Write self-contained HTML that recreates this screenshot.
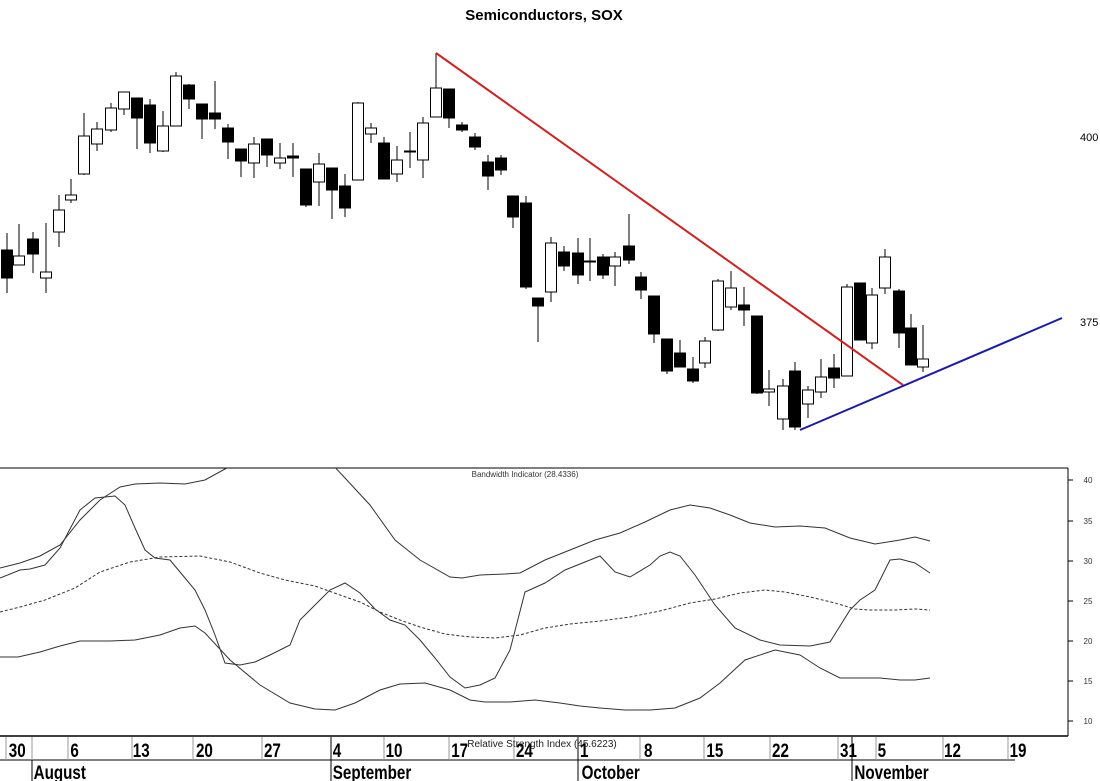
<!DOCTYPE html>
<html><head><meta charset="utf-8"><style>
html,body{margin:0;padding:0;background:#fff}
svg{display:block}
text{font-family:"Liberation Sans",sans-serif}
</style></head><body>
<svg width="1100" height="781" viewBox="0 0 1100 781" xmlns="http://www.w3.org/2000/svg">
<rect width="1100" height="781" fill="#fff"/>
<text x="544" y="20" font-size="15" font-weight="bold" text-anchor="middle">Semiconductors, SOX</text>
<text x="1080" y="141" font-size="11">400</text>
<text x="1080" y="326" font-size="11">375</text>
<g stroke="#000" stroke-width="1" shape-rendering="crispEdges">
<line x1="7" y1="233" x2="7" y2="293"/><rect x="1.5" y="250" width="11" height="28" fill="#000"/>
<line x1="19" y1="224" x2="19" y2="265"/><rect x="13.5" y="256" width="11" height="9" fill="#fff"/>
<line x1="33" y1="232" x2="33" y2="273"/><rect x="27.5" y="239" width="11" height="15" fill="#000"/>
<line x1="46" y1="223" x2="46" y2="293"/><rect x="40.5" y="272" width="11" height="6" fill="#fff"/>
<line x1="59" y1="195" x2="59" y2="247"/><rect x="53.5" y="210" width="11" height="22" fill="#fff"/>
<line x1="71" y1="179" x2="71" y2="203"/><rect x="65.5" y="195" width="11" height="5" fill="#fff"/>
<line x1="84" y1="113" x2="84" y2="175"/><rect x="78.5" y="136" width="11" height="38" fill="#fff"/>
<line x1="97" y1="122" x2="97" y2="151"/><rect x="91.5" y="129" width="11" height="15" fill="#fff"/>
<line x1="111" y1="103" x2="111" y2="132"/><rect x="105.5" y="108" width="11" height="22" fill="#fff"/>
<line x1="124" y1="92" x2="124" y2="115"/><rect x="118.5" y="92" width="11" height="17" fill="#fff"/>
<line x1="137" y1="98" x2="137" y2="149"/><rect x="131.5" y="98" width="11" height="20" fill="#000"/>
<line x1="150" y1="99" x2="150" y2="153"/><rect x="144.5" y="105" width="11" height="38" fill="#000"/>
<line x1="163" y1="111" x2="163" y2="152"/><rect x="157.5" y="126" width="11" height="25" fill="#fff"/>
<line x1="176" y1="72" x2="176" y2="126"/><rect x="170.5" y="76" width="11" height="50" fill="#fff"/>
<line x1="189" y1="84" x2="189" y2="109"/><rect x="183.5" y="85" width="11" height="14" fill="#000"/>
<line x1="202" y1="104" x2="202" y2="139"/><rect x="196.5" y="104" width="11" height="15" fill="#000"/>
<line x1="215" y1="81" x2="215" y2="129"/><rect x="209.5" y="113" width="11" height="6" fill="#000"/>
<line x1="228" y1="124" x2="228" y2="159"/><rect x="222.5" y="128" width="11" height="14" fill="#000"/>
<line x1="241" y1="149" x2="241" y2="177"/><rect x="235.5" y="149" width="11" height="12" fill="#000"/>
<line x1="254" y1="137" x2="254" y2="178"/><rect x="248.5" y="144" width="11" height="19" fill="#fff"/>
<line x1="267" y1="139" x2="267" y2="167"/><rect x="261.5" y="139" width="11" height="16" fill="#000"/>
<line x1="280" y1="143" x2="280" y2="169"/><rect x="274.5" y="158" width="11" height="5" fill="#fff"/>
<line x1="293" y1="143" x2="293" y2="177"/><rect x="287.5" y="156" width="11" height="2" fill="#000"/>
<line x1="306" y1="169" x2="306" y2="207"/><rect x="300.5" y="169" width="11" height="36" fill="#000"/>
<line x1="319" y1="153" x2="319" y2="206"/><rect x="313.5" y="164" width="11" height="18" fill="#fff"/>
<line x1="332" y1="168" x2="332" y2="219"/><rect x="326.5" y="168" width="11" height="22" fill="#000"/>
<line x1="345" y1="174" x2="345" y2="217"/><rect x="339.5" y="186" width="11" height="22" fill="#000"/>
<line x1="358" y1="102" x2="358" y2="180"/><rect x="352.5" y="103" width="11" height="77" fill="#fff"/>
<line x1="371" y1="123" x2="371" y2="143"/><rect x="365.5" y="128" width="11" height="6" fill="#fff"/>
<line x1="384" y1="137" x2="384" y2="179"/><rect x="378.5" y="143" width="11" height="36" fill="#000"/>
<line x1="397" y1="146" x2="397" y2="182"/><rect x="391.5" y="160" width="11" height="14" fill="#fff"/>
<line x1="410" y1="132" x2="410" y2="168"/><rect x="404.5" y="151" width="11" height="1" fill="#000"/>
<line x1="423" y1="117" x2="423" y2="178"/><rect x="417.5" y="123" width="11" height="37" fill="#fff"/>
<line x1="436" y1="53" x2="436" y2="117"/><rect x="430.5" y="88" width="11" height="29" fill="#fff"/>
<line x1="449" y1="89" x2="449" y2="128"/><rect x="443.5" y="89" width="11" height="29" fill="#000"/>
<line x1="462" y1="122" x2="462" y2="132"/><rect x="456.5" y="125" width="11" height="5" fill="#000"/>
<line x1="475" y1="133" x2="475" y2="150"/><rect x="469.5" y="137" width="11" height="10" fill="#000"/>
<line x1="488" y1="155" x2="488" y2="190"/><rect x="482.5" y="162" width="11" height="14" fill="#000"/>
<line x1="501" y1="155" x2="501" y2="175"/><rect x="495.5" y="158" width="11" height="12" fill="#000"/>
<line x1="513" y1="196" x2="513" y2="228"/><rect x="507.5" y="196" width="11" height="21" fill="#000"/>
<line x1="526" y1="196" x2="526" y2="289"/><rect x="520.5" y="203" width="11" height="84" fill="#000"/>
<line x1="538" y1="298" x2="538" y2="342"/><rect x="532.5" y="298" width="11" height="8" fill="#000"/>
<line x1="551" y1="237" x2="551" y2="302"/><rect x="545.5" y="243" width="11" height="49" fill="#fff"/>
<line x1="564" y1="246" x2="564" y2="271"/><rect x="558.5" y="252" width="11" height="14" fill="#000"/>
<line x1="578" y1="238" x2="578" y2="284"/><rect x="572.5" y="253" width="11" height="22" fill="#000"/>
<line x1="590" y1="238" x2="590" y2="281"/><rect x="584.5" y="261" width="11" height="1" fill="#000"/>
<line x1="603" y1="254" x2="603" y2="279"/><rect x="597.5" y="257" width="11" height="18" fill="#000"/>
<line x1="615" y1="252" x2="615" y2="286"/><rect x="609.5" y="257" width="11" height="9" fill="#fff"/>
<line x1="629" y1="214" x2="629" y2="264"/><rect x="623.5" y="246" width="11" height="14" fill="#000"/>
<line x1="641" y1="272" x2="641" y2="299"/><rect x="635.5" y="277" width="11" height="13" fill="#000"/>
<line x1="654" y1="296" x2="654" y2="343"/><rect x="648.5" y="296" width="11" height="38" fill="#000"/>
<line x1="667" y1="339" x2="667" y2="374"/><rect x="661.5" y="339" width="11" height="32" fill="#000"/>
<line x1="680" y1="340" x2="680" y2="367"/><rect x="674.5" y="353" width="11" height="14" fill="#000"/>
<line x1="693" y1="357" x2="693" y2="383"/><rect x="687.5" y="369" width="11" height="12" fill="#000"/>
<line x1="705" y1="337" x2="705" y2="368"/><rect x="699.5" y="341" width="11" height="22" fill="#fff"/>
<line x1="718" y1="279" x2="718" y2="331"/><rect x="712.5" y="281" width="11" height="49" fill="#fff"/>
<line x1="731" y1="271" x2="731" y2="310"/><rect x="725.5" y="288" width="11" height="19" fill="#fff"/>
<line x1="744" y1="287" x2="744" y2="326"/><rect x="738.5" y="305" width="11" height="5" fill="#000"/>
<line x1="757" y1="316" x2="757" y2="394"/><rect x="751.5" y="316" width="11" height="77" fill="#000"/>
<line x1="769" y1="370" x2="769" y2="406"/><rect x="763.5" y="389" width="11" height="3" fill="#fff"/>
<line x1="783" y1="379" x2="783" y2="430"/><rect x="777.5" y="386" width="11" height="33" fill="#fff"/>
<line x1="795" y1="362" x2="795" y2="430"/><rect x="789.5" y="371" width="11" height="56" fill="#000"/>
<line x1="808" y1="386" x2="808" y2="418"/><rect x="802.5" y="390" width="11" height="14" fill="#fff"/>
<line x1="821" y1="359" x2="821" y2="398"/><rect x="815.5" y="377" width="11" height="15" fill="#fff"/>
<line x1="834" y1="354" x2="834" y2="388"/><rect x="828.5" y="368" width="11" height="10" fill="#000"/>
<line x1="847" y1="284" x2="847" y2="376"/><rect x="841.5" y="287" width="11" height="89" fill="#fff"/>
<line x1="860" y1="283" x2="860" y2="340"/><rect x="854.5" y="283" width="11" height="57" fill="#000"/>
<line x1="872" y1="288" x2="872" y2="349"/><rect x="866.5" y="295" width="11" height="48" fill="#fff"/>
<line x1="885" y1="249" x2="885" y2="294"/><rect x="879.5" y="257" width="11" height="31" fill="#fff"/>
<line x1="899" y1="289" x2="899" y2="348"/><rect x="893.5" y="291" width="11" height="42" fill="#000"/>
<line x1="911" y1="314" x2="911" y2="365"/><rect x="905.5" y="328" width="11" height="37" fill="#000"/>
<line x1="923" y1="325" x2="923" y2="372"/><rect x="917.5" y="359" width="11" height="8" fill="#fff"/>
</g>
<line x1="436" y1="53" x2="903" y2="385" stroke="#d42020" stroke-width="2"/>
<line x1="800" y1="430" x2="1062" y2="318" stroke="#1a1ab0" stroke-width="2"/>

<!-- indicator panel -->
<line x1="0" y1="468" x2="1068" y2="468" stroke="#000"/>
<line x1="1068" y1="468" x2="1068" y2="736" stroke="#000"/>
<g stroke="#000">
<line x1="1068" y1="480" x2="1073" y2="480"/><line x1="1068" y1="521" x2="1073" y2="521"/><line x1="1068" y1="561" x2="1073" y2="561"/><line x1="1068" y1="601" x2="1073" y2="601"/><line x1="1068" y1="641" x2="1073" y2="641"/><line x1="1068" y1="681" x2="1073" y2="681"/><line x1="1068" y1="721" x2="1073" y2="721"/>
</g>
<g font-size="8" fill="#333">
<text x="1088" y="483" text-anchor="middle">40</text><text x="1088" y="524" text-anchor="middle">35</text><text x="1088" y="564" text-anchor="middle">30</text><text x="1088" y="604" text-anchor="middle">25</text><text x="1088" y="644" text-anchor="middle">20</text><text x="1088" y="684" text-anchor="middle">15</text><text x="1088" y="724" text-anchor="middle">10</text>
<text x="525" y="477" text-anchor="middle" font-size="8">Bandwidth Indicator (28.4336)</text>
</g>
<svg x="0" y="468" width="1068" height="268" viewBox="0 468 1068 268">
<g fill="none" stroke="#333" stroke-width="1">
<polyline points="0,568 20,563 40,556 60,545 80,520 100,500 120,487 135,484 160,483 185,484 205,480 225,469 240,462 330,462 345,478 370,505 395,540 420,560 450,577 462,578 480,575 505,574 520,573 545,560 570,550 595,540 620,533 645,522 670,510 690,505 710,508 730,515 750,523 775,527 800,526 825,528 850,538 875,544 900,540 915,537 930,541"/>
<polyline points="0,657 18,657 40,652 60,646 80,641 110,641 135,640 160,635 180,628 195,626 205,633 230,660 260,685 290,703 315,709 335,710 355,703 380,690 400,684 425,683 450,690 470,700 485,702 510,702 535,700 560,703 580,706 600,708 625,710 650,710 675,708 700,698 720,683 745,660 775,650 800,655 820,668 840,678 860,678 880,678 900,680 915,680 930,678"/>
<polyline stroke-dasharray="3,2" points="0,612 20,607 45,600 75,588 100,572 130,562 160,557 200,556 230,562 260,573 285,580 315,586 340,595 360,602 380,612 400,620 420,627 445,634 470,637 495,638 520,635 545,628 570,624 600,621 630,617 660,611 690,603 715,599 740,593 765,590 785,592 810,597 835,603 855,609 870,610 895,610 915,609 930,610"/>
<polyline points="0,578 20,570 30,569 45,565 60,548 80,510 95,498 115,496 125,505 135,528 145,550 155,558 170,560 180,572 195,590 205,610 215,635 225,663 240,665 255,662 270,655 290,645 300,620 310,610 330,590 345,583 360,593 375,609 390,620 405,625 420,640 435,658 450,677 465,688 480,685 495,678 510,650 525,592 545,583 565,570 585,562 600,556 615,572 630,577 650,565 660,556 670,552 680,556 695,575 715,605 735,628 760,640 780,645 810,646 830,642 850,610 860,600 875,590 890,560 900,559 915,563 930,573"/>
</g>
</svg>

<!-- date axis -->
<line x1="0" y1="736" x2="1068" y2="736" stroke="#000" stroke-width="1.5"/>
<line x1="0" y1="760" x2="1015" y2="760" stroke="#000"/>
<g stroke="#999">
<line x1="6" y1="737" x2="6" y2="760"/><line x1="32" y1="737" x2="32" y2="760"/><line x1="68" y1="737" x2="68" y2="760"/><line x1="132" y1="737" x2="132" y2="760"/><line x1="193" y1="737" x2="193" y2="760"/><line x1="262" y1="737" x2="262" y2="760"/><line x1="384" y1="737" x2="384" y2="760"/><line x1="449" y1="737" x2="449" y2="760"/><line x1="514" y1="737" x2="514" y2="760"/><line x1="640" y1="737" x2="640" y2="760"/><line x1="704" y1="737" x2="704" y2="760"/><line x1="770" y1="737" x2="770" y2="760"/><line x1="838" y1="737" x2="838" y2="760"/><line x1="876" y1="737" x2="876" y2="760"/><line x1="943" y1="737" x2="943" y2="760"/><line x1="1008" y1="737" x2="1008" y2="760"/>
</g>
<g stroke="#000">
<line x1="32" y1="760" x2="32" y2="781"/><line x1="331" y1="737" x2="331" y2="781"/><line x1="578" y1="737" x2="578" y2="781"/><line x1="852" y1="737" x2="852" y2="781"/>
</g>
<g font-size="19" font-weight="bold" transform="scale(0.8,1)">
<text x="11" y="757">30</text><text x="88" y="757">6</text><text x="166" y="757">13</text><text x="245" y="757">20</text><text x="330" y="757">27</text><text x="416" y="757">4</text><text x="482" y="757">10</text><text x="564" y="757">17</text><text x="645" y="757">24</text><text x="725" y="757">1</text><text x="805" y="757">8</text><text x="883" y="757">15</text><text x="965" y="757">22</text><text x="1050" y="757">31</text><text x="1097" y="757">5</text><text x="1180" y="757">12</text><text x="1262" y="757">19</text>
<text x="42" y="779">August</text><text x="416" y="779">September</text><text x="727" y="779">October</text><text x="1068" y="779">November</text>
</g>
<text x="542" y="747" font-size="10" text-anchor="middle" fill="#222">Relative Strength Index (45.6223)</text>
</svg>
</body></html>
